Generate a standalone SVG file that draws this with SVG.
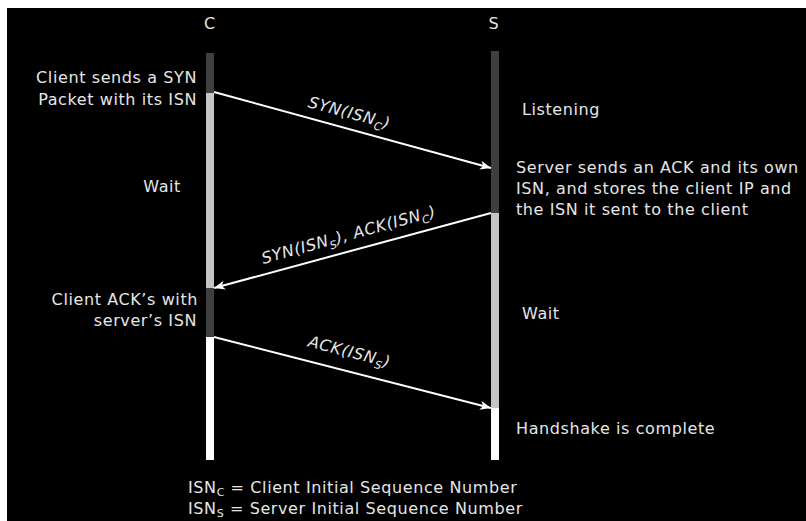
<svg xmlns="http://www.w3.org/2000/svg" width="806" height="521" viewBox="0 0 806 521">
<style>
text{font-family:"DejaVu Sans","Liberation Sans",sans-serif;font-size:16px;fill:#e6e6e6;letter-spacing:0.6px}
.end{text-anchor:end}
.mid{text-anchor:middle}
.lbl{font-style:italic;text-anchor:middle}
.sub{font-size:11px}
.msg{stroke:#ffffff;stroke-width:2;fill:none;marker-end:url(#ah)}
.dark{fill:#3f3f3f}.light{fill:#c4c4c4}.white{fill:#ffffff}
</style>
<defs>
<marker id="ah" markerUnits="userSpaceOnUse" markerWidth="12" markerHeight="10" refX="11" refY="4.5" orient="auto">
<path d="M0,0 L11,4.5 L0,9 L3,4.5 z" fill="#ffffff"/>
</marker>
</defs>
<rect x="0" y="0" width="806" height="521" fill="#ffffff"/>
<rect x="7" y="8" width="799" height="513" fill="#000000"/>
<g id="client">
<text class="mid" x="210" y="29">C</text>
<rect class="dark" x="206" y="53" width="8" height="40"/>
<rect class="light" x="206" y="93" width="8" height="195"/>
<rect class="dark" x="206" y="288" width="8" height="49"/>
<rect class="white" x="206" y="337" width="8" height="123"/>
<text class="end" x="197" y="83">Client sends a SYN</text>
<text class="end" x="197" y="105">Packet with its ISN</text>
<text class="end" x="181" y="192">Wait</text>
<text class="end" x="198" y="305">Client ACK’s with</text>
<text class="end" x="197" y="326">server’s ISN</text>
</g>
<g id="server">
<text class="mid" x="494" y="29">S</text>
<rect class="dark" x="491" y="51" width="8" height="162"/>
<rect class="light" x="491" y="213" width="8" height="195"/>
<rect class="white" x="491" y="408" width="8" height="52"/>
<text x="522" y="115">Listening</text>
<text x="516" y="173">Server sends an ACK and its own</text>
<text x="516" y="194">ISN, and stores the client IP and</text>
<text x="516" y="215">the ISN it sent to the client</text>
<text x="522" y="319">Wait</text>
<text x="516" y="434">Handshake is complete</text>
</g>
<g id="connectors">
<line class="msg" x1="214" y1="92" x2="491" y2="168"/>
<line class="msg" x1="491" y1="213" x2="214" y2="288"/>
<line class="msg" x1="214" y1="337" x2="491" y2="408"/>
<text class="lbl" transform="translate(348,118) rotate(15.2)">SYN(ISN<tspan class="sub" dy="4">C</tspan><tspan dy="-4">)</tspan></text>
<text class="lbl" transform="translate(350,240) rotate(-15.4)">SYN(ISN<tspan class="sub" dy="4">S</tspan><tspan dy="-4">), ACK(ISN</tspan><tspan class="sub" dy="4">C</tspan><tspan dy="-4">)</tspan></text>
<text class="lbl" transform="translate(348,357) rotate(14.6)">ACK(ISN<tspan class="sub" dy="4">S</tspan><tspan dy="-4">)</tspan></text>
</g>
<g id="legend">
<text x="188" y="493">ISN<tspan class="sub" dy="3">C</tspan><tspan dy="-3"> = Client Initial Sequence Number</tspan></text>
<text x="188" y="514">ISN<tspan class="sub" dy="3">S</tspan><tspan dy="-3"> = Server Initial Sequence Number</tspan></text>
</g>
</svg>
